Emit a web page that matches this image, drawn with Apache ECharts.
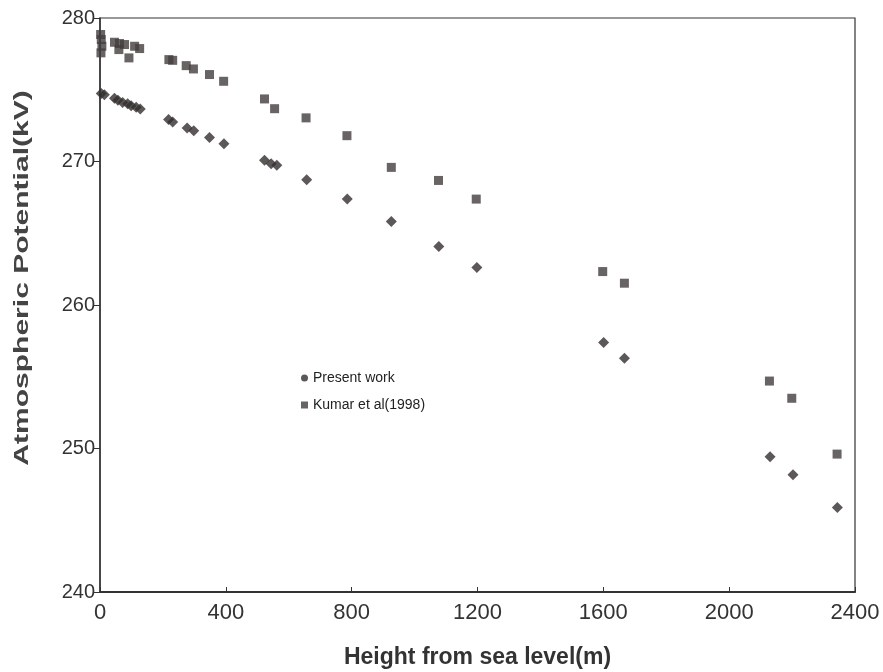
<!DOCTYPE html>
<html>
<head>
<meta charset="utf-8">
<script src="https://cdn.jsdelivr.net/npm/echarts@6/dist/echarts.min.js"></script>
<style>html,body{margin:0;padding:0;background:#fff;}#c{width:883px;height:672px;}</style>
</head>
<body>
<div id="c"></div>
<script>
// Present work (height m, potential kV)
const presentX = [4, 14, 46, 57, 72, 88, 99, 115, 128, 218, 231, 277, 298, 348, 394, 523, 544, 562, 657, 786, 926, 1077, 1198, 1601, 1667, 2130, 2203, 2344];
const presentY = [274.73, 274.66, 274.40, 274.26, 274.12, 274.03, 273.89, 273.78, 273.66, 272.92, 272.76, 272.34, 272.15, 271.68, 271.24, 270.08, 269.85, 269.73, 268.73, 267.38, 265.82, 264.08, 262.61, 257.38, 256.29, 249.42, 248.17, 245.89];
// Kumar et al (1998)
const kumarX = [2, 4, 6, 3, 46, 62, 78, 60, 92, 110, 126, 219, 231, 274, 297, 348, 393, 523, 555, 655, 785, 926, 1076, 1196, 1598, 1667, 2128, 2199, 2343];
const kumarY = [278.85, 278.5, 278.03, 277.57, 278.31, 278.22, 278.15, 277.8, 277.22, 278.03, 277.87, 277.1, 277.05, 276.68, 276.45, 276.06, 275.59, 274.36, 273.68, 273.04, 271.8, 269.59, 268.68, 267.38, 262.33, 261.52, 254.70, 253.50, 249.61];
const seriesNames = ['Present work', 'Kumar et al(1998)'];
const xTicks = [0, 400, 800, 1200, 1600, 2000, 2400];
const yTicks = [240, 250, 260, 270, 280];
const yTitle = 'Atmospheric Potential(kV)';
const xTitle = 'Height from sea level(m)';

const zip = (a, b) => a.map((v, i) => [v, b[i]]);
const chart = echarts.init(document.getElementById('c'), null, {renderer: 'canvas'});
chart.setOption({
  backgroundColor: '#ffffff',
  animation: false,
  grid: {left: 100, right: 28, top: 18, bottom: 80, show: true, borderColor: '#333', borderWidth: 1.2, backgroundColor: 'transparent', containLabel: false, outerBoundsMode: 'none'},
  legend: {
    orient: 'vertical', left: 296, top: 366, itemWidth: 7, itemHeight: 7, itemGap: 13,
    textStyle: {fontFamily: 'Liberation Sans, Arial, sans-serif', fontSize: 14, color: '#222'},
    data: [{name: seriesNames[0], icon: 'circle'}, {name: seriesNames[1], icon: 'rect'}]
  },
  graphic: [{
    type: 'text',
    x: 22, y: 278, rotation: Math.PI / 2, scaleX: 1.43, scaleY: 1,
    style: {text: yTitle, fontFamily: 'Liberation Sans, Arial, sans-serif', fontWeight: 'bold', fontSize: 21, fill: '#444', align: 'center', verticalAlign: 'middle'}
  }],
  xAxis: {
    type: 'value', min: xTicks[0], max: xTicks[xTicks.length - 1], interval: 400,
    name: xTitle, nameLocation: 'middle', nameGap: 54,
    nameTextStyle: {fontFamily: 'Liberation Sans, Arial, sans-serif', fontWeight: 'bold', fontSize: 23, color: '#333'},
    axisLine: {show: true, onZero: false, lineStyle: {color: '#333', width: 2}},
    axisTick: {show: true, inside: true, length: 5, lineStyle: {color: '#333'}},
    axisLabel: {margin: 10, fontFamily: 'Liberation Sans, Arial, sans-serif', fontSize: 22, color: '#333', formatter: v => String(v)},
    splitLine: {show: false}
  },
  yAxis: {
    type: 'value', min: yTicks[0], max: yTicks[yTicks.length - 1], interval: 10,
    axisLine: {show: true, onZero: false, lineStyle: {color: '#333', width: 1.5}},
    axisTick: {show: true, inside: false, length: 6, lineStyle: {color: '#333'}},
    axisLabel: {margin: 5, fontFamily: 'Liberation Sans, Arial, sans-serif', fontSize: 20, color: '#333', formatter: v => String(v)},
    splitLine: {show: false}
  },
  series: [
    {name: seriesNames[0], type: 'scatter', symbol: 'diamond', symbolSize: 11,
     itemStyle: {color: '#332e2e'}, data: zip(presentX, presentY)},
    {name: seriesNames[1], type: 'scatter', symbol: 'rect', symbolSize: 9,
     itemStyle: {color: '#433d3d'}, data: zip(kumarX, kumarY)}
  ]
});
</script>
</body>
</html>
